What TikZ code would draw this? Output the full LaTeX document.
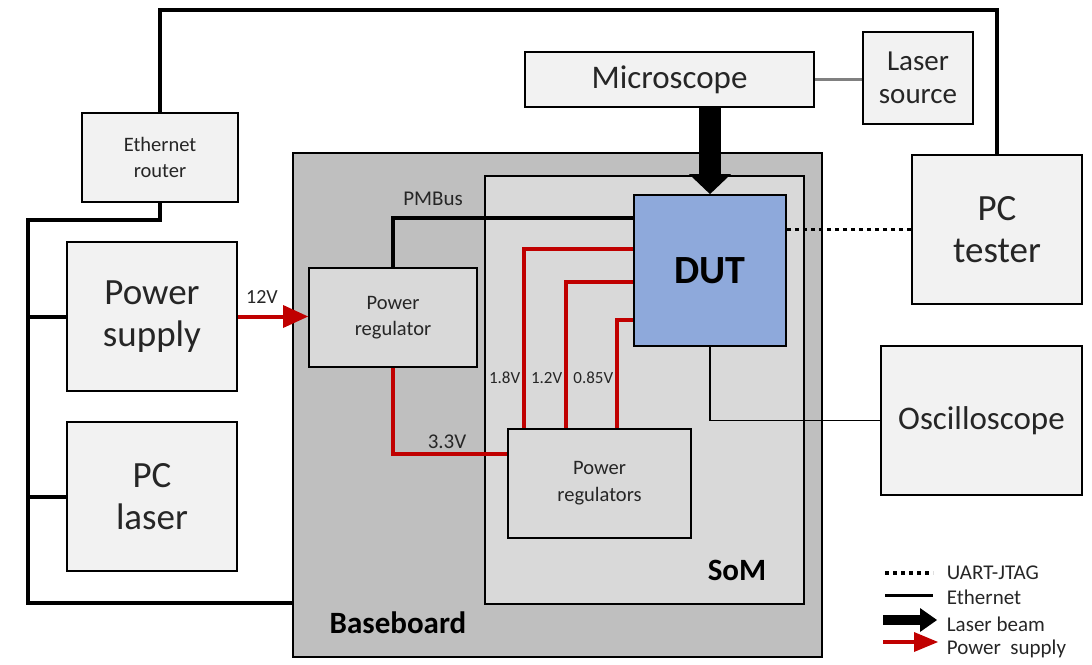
\documentclass[tikz,border=0pt]{standalone}
\usepackage{fontspec}
\setmainfont{Carlito}
\usetikzlibrary{arrows.meta,calc}
\definecolor{boxfill}{HTML}{F2F2F2}
\definecolor{somfill}{HTML}{D9D9D9}
\definecolor{basefill}{HTML}{BFBFBF}
\definecolor{dutfill}{HTML}{8EA9DB}
\definecolor{pwr}{HTML}{C00000}
\definecolor{ink}{HTML}{262626}
\newcommand{\fsz}[2]{\fontsize{#1pt}{#2pt}\selectfont}
\tikzset{px/.style={x=1pt,y=-1pt,line width=1.8pt,text=ink},
  blk/.style={draw,fill=boxfill,inner sep=0pt,align=center},
  eth/.style={line width=4pt},
  bus/.style={line width=3.5pt},
  uart/.style={line width=3.8pt,dash pattern=on 3.8pt off 4.2pt},
  pwrline/.style={pwr,line width=4pt},
  beam/.style={line width=22pt,-{Triangle[length=20pt,width=42pt,line width=0pt]}}}

\begin{document}
\begin{tikzpicture}[px]
  \useasboundingbox (0,0) rectangle (1092,664);
  % boards
  \node[draw,fill=basefill,minimum width=529pt,minimum height=504pt] (base) at (557.5,405) {};
  \node[draw,fill=somfill,minimum width=319pt,minimum height=428pt] (som) at (644.5,390) {};
  \node[text=black,font=\fsz{31}{36}\bfseries] (baselbl) at (398,623) {Baseboard};
  \node[text=black,font=\fsz{31}{36}\bfseries] (somlbl) at (737,570) {SoM};
  % blocks
  \node[blk,minimum width=156pt,minimum height=89pt,font=\fsz{20.5}{26}] (router) at (160,157.5) {Ethernet\\router};
  \node[blk,minimum width=170pt,minimum height=149pt,font=\fsz{37}{42}] (ps) at (152,316.5) {Power\\supply};
  \node[blk,minimum width=170pt,minimum height=149pt,font=\fsz{37}{42}] (pcl) at (152,496.5) {PC\\laser};
  \node[blk,minimum width=289pt,minimum height=55pt,font=\fsz{33}{38}] (mic) at (669.5,79.5) {Microscope};
  \node[blk,minimum width=110pt,minimum height=92pt,font=\fsz{29}{33}] (laser) at (918,78) {Laser\\source};
  \node[blk,minimum width=170pt,minimum height=149pt,font=\fsz{37}{42}] (tester) at (997,229.5) {PC\\tester};
  \node[blk,minimum width=201pt,minimum height=149pt,font=\fsz{33}{38}] (osc) at (981.5,420.5) {Oscilloscope};
  \node[blk,fill=somfill,minimum width=168pt,minimum height=99pt,font=\fsz{20.5}{26}] (preg) at (393,317.5) {Power\\regulator};
  \node[blk,fill=somfill,minimum width=183pt,minimum height=109pt,font=\fsz{20.5}{27}] (pregs) at (599.5,483.5) {Power\\regulators};
  \node[blk,fill=dutfill,text=black,minimum width=152pt,minimum height=151pt,font=\fsz{40}{46}\bfseries] (dut) at (710,270.5) {DUT};

  % ethernet
  \coordinate (top) at (0,10);
  \coordinate (busT) at (28,220);
  \coordinate (busB) at (28,603);
  \draw[eth] (router.north) -- (router.north |- top) -| (tester.north);
  \draw[eth] (router.south) |- (busT) -- (busB) -- (busB -| base.west);
  \draw[eth] (busT |- ps.west) -- (ps.west);
  \draw[eth] (busT |- pcl.west) -- (pcl.west);
  \draw[uart] (tester.west -| dut.east) -- (tester.west);
  \draw[line width=1.2pt] (dut.south) |- (osc.west);
  \draw[black!50,line width=2.5pt] (mic.east) -- (mic.east -| laser.west);
  \draw[beam] (dut.north |- mic.south) -- (dut.north);

  % power
  \draw[pwrline,-{Triangle[length=25pt,width=23pt,line width=0pt]}] (ps.east) -- (ps.east -| preg.west);
  \node[font=\fsz{20}{24}] (v12) at (262,297) {12V};
  \draw[bus] (preg.north) |- ($(dut.north west)+(0,24)$);
  \node[font=\fsz{21}{25}] (pmbus) at (433,199) {PMBus};
  \draw[pwrline] (preg.south) |- ($(pregs.north west)+(0,26)$);
  \node[font=\fsz{21}{25}] (v33) at (447,442) {3.3V};
  \foreach \dx/\dy/\v [count=\i] in {17/55/1.8V,59/88/1.2V,110/126/0.85V}{
    \draw[pwrline] ($(pregs.north west)+(\dx,0)$) |- ($(dut.north west)+(0,\dy)$);
    \node[font=\fsz{17}{20},anchor=east,inner sep=1pt] (v\i) at ($(pregs.north west)+(\dx-2,-50)$) {\v};
  }

  % legend
  \coordinate (la0) at (885,573); \coordinate (la1) at (933,573);
  \coordinate (lb0) at (885,595); \coordinate (lb1) at (933,595);
  \coordinate (lc0) at (883,620); \coordinate (lc1) at (937,620);
  \coordinate (ld0) at (883,642); \coordinate (ld1) at (938,642);
  \draw[uart] (la0) -- (la1);
  \draw[line width=3pt] (lb0) -- (lb1);
  \draw[line width=10pt,-{Triangle[length=17pt,width=24pt,line width=0pt]}] (lc0) -- (lc1);
  \draw[pwrline,-{Triangle[length=24pt,width=20pt,line width=0pt]}] (ld0) -- (ld1);
  \node[anchor=west,inner sep=0pt,font=\fsz{21}{24}] (lga) at (946,573) {UART-JTAG};
  \node[anchor=west,inner sep=0pt,font=\fsz{21}{24}] (lgb) at (946,597) {Ethernet};
  \node[anchor=west,inner sep=0pt,font=\fsz{21}{24}] (lgc) at (946,624) {Laser beam};
  \node[anchor=west,inner sep=0pt,font=\fsz{21}{24}] (lgd) at (946,649) {Power\ \ supply};
\end{tikzpicture}
\end{document}
